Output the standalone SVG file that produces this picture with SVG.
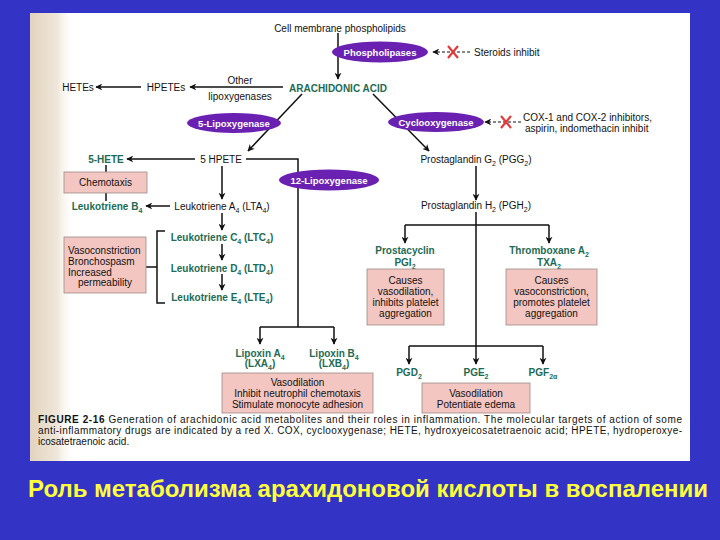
<svg xmlns="http://www.w3.org/2000/svg" width="720" height="540" viewBox="0 0 720 540">
<defs>
<linearGradient id="bind" x1="0" y1="0" x2="1" y2="0">
<stop offset="0" stop-color="#e2d3bd"/>
<stop offset="0.6" stop-color="#efe6da"/>
<stop offset="1" stop-color="#ffffff" stop-opacity="0"/>
</linearGradient>
<marker id="ah" viewBox="0 0 10 10" refX="9" refY="5" markerWidth="7" markerHeight="7" markerUnits="userSpaceOnUse" orient="auto">
<path d="M0,0 L10,5 L0,10 L3,5 Z" fill="#111"/>
</marker>
<style>
text{font-family:"Liberation Sans",Arial,sans-serif;fill:#111;font-size:10px}
.c{text-anchor:middle}
.g{fill:#1d6b55;font-weight:bold;font-size:10px}
.e{fill:#fff;font-weight:bold;font-size:9.5px;text-anchor:middle}
.s{font-size:7px;baseline-shift:-2.5px}
.ell{fill:#6a21b2}
.box{fill:#f4c6c1;stroke:#9a8a88;stroke-width:0.8}
.ln{fill:none;stroke:#111;stroke-width:1.5}
.ar{fill:none;stroke:#111;stroke-width:1.5;marker-end:url(#ah)}
.da{fill:none;stroke:#111;stroke-width:1.2;stroke-dasharray:3 2;marker-end:url(#ah)}
.x{stroke:#e23a3a;stroke-width:2.2;fill:none}
.cap{font-size:10px}
</style>
</defs>
<rect x="0" y="0" width="720" height="540" fill="#3333c6"/>
<rect x="30" y="13" width="660" height="448" fill="#ffffff"/>
<rect x="30" y="13" width="45" height="448" fill="url(#bind)"/>

<g id="connectors">
<line class="ar" x1="338" y1="33" x2="338" y2="79"/>
<line class="da" x1="470" y1="52" x2="433" y2="52"/>
<line class="ar" x1="283" y1="87" x2="190" y2="87"/>
<line class="ar" x1="141" y1="87" x2="96" y2="87"/>
<line class="ar" x1="302" y1="94" x2="248" y2="151"/>
<line class="ar" x1="373" y1="94" x2="429" y2="151"/>
<line class="da" x1="521" y1="122" x2="485" y2="122"/>
<line class="ar" x1="195" y1="159" x2="127" y2="159"/>
<path class="ln" d="M246,159 H298 V327 M260,327 H334"/>
<line class="ar" x1="260" y1="327" x2="260" y2="344"/>
<line class="ar" x1="334" y1="327" x2="334" y2="344"/>
<line class="ar" x1="222" y1="166" x2="222" y2="199"/>
<line class="ln" x1="106" y1="165" x2="106" y2="201"/>
<line class="ar" x1="170" y1="206" x2="146" y2="206"/>
<line class="ar" x1="222" y1="213" x2="222" y2="230"/>
<line class="ar" x1="222" y1="244" x2="222" y2="260"/>
<line class="ar" x1="222" y1="274" x2="222" y2="290"/>
<path class="ln" d="M165,231 H157 V303 H165 M146,267 H157"/>
<line class="ar" x1="476" y1="166" x2="476" y2="200"/>
<path class="ln" d="M476,212 V346 M405,225 H549 M409,346 H543"/>
<line class="ar" x1="405" y1="225" x2="405" y2="243"/>
<line class="ar" x1="549" y1="225" x2="549" y2="243"/>
<line class="ar" x1="409" y1="346" x2="409" y2="364"/>
<line class="ar" x1="476" y1="346" x2="476" y2="364"/>
<line class="ar" x1="543" y1="346" x2="543" y2="364"/>
<path class="x" d="M448,46 L458,58 M458,46 L448,58"/>
<path class="x" d="M501,116 L511,128 M511,116 L501,128"/>
</g>

<g id="cell-membrane"><text class="c" x="340" y="31.5">Cell membrane phospholipids</text></g>
<g id="phospholipases"><ellipse class="ell" cx="380" cy="52" rx="48" ry="10.5"/><text class="e" x="380" y="55.5">Phospholipases</text></g>
<g id="steroids"><text x="474" y="55.5">Steroids inhibit</text></g>
<g id="arachidonic"><text class="g c" x="338" y="91.5">ARACHIDONIC ACID</text></g>
<g id="other-lox"><text class="c" x="240" y="84">Other</text><text class="c" x="240" y="99.5">lipoxygenases</text></g>
<g id="hpetes"><text class="c" x="166" y="90.5">HPETEs</text></g>
<g id="hetes"><text class="c" x="78" y="90.5">HETEs</text></g>
<g id="lox5"><ellipse class="ell" cx="234" cy="123" rx="47" ry="10"/><text class="e" x="234" y="126.5">5-Lipoxygenase</text></g>
<g id="cox"><ellipse class="ell" cx="436" cy="122" rx="48" ry="10"/><text class="e" x="436" y="125.5">Cyclooxygenase</text></g>
<g id="cox-inhib"><text x="523" y="121">COX-1 and COX-2 inhibitors,</text><text x="525" y="132">aspirin, indomethacin inhibit</text></g>
<g id="hete5"><text class="g c" x="106" y="162.5">5-HETE</text></g>
<g id="hpete5"><text class="c" x="221" y="162.5">5 HPETE</text></g>
<g id="lox12"><ellipse class="ell" cx="329" cy="180" rx="50" ry="10.5"/><text class="e" x="329" y="183.5">12-Lipoxygenase</text></g>
<g id="chemotaxis"><rect class="box" x="64" y="172" width="83" height="21"/><text class="c" x="105.5" y="186">Chemotaxis</text></g>
<g id="ltb4"><text class="g c" x="107" y="209.5">Leukotriene B<tspan class="s">4</tspan></text></g>
<g id="lta4"><text class="c" x="222" y="209.5">Leukotriene A<tspan class="s">4</tspan> (LTA<tspan class="s">4</tspan>)</text></g>
<g id="ltc4"><text class="g c" x="222" y="240.5">Leukotriene C<tspan class="s">4</tspan> (LTC<tspan class="s">4</tspan>)</text></g>
<g id="ltd4"><text class="g c" x="222" y="271.5">Leukotriene D<tspan class="s">4</tspan> (LTD<tspan class="s">4</tspan>)</text></g>
<g id="lte4"><text class="g c" x="222" y="300.5">Leukotriene E<tspan class="s">4</tspan> (LTE<tspan class="s">4</tspan>)</text></g>
<g id="vaso-box"><rect class="box" x="64" y="237" width="82" height="56"/>
<text x="68" y="253.5">Vasoconstriction</text><text x="68" y="264.5">Bronchospasm</text><text x="68" y="275.5">Increased</text><text x="78" y="286">permeability</text></g>
<g id="pgg2"><text class="c" x="476" y="162.5">Prostaglandin G<tspan class="s">2</tspan> (PGG<tspan class="s">2</tspan>)</text></g>
<g id="pgh2"><text class="c" x="476" y="208.5">Prostaglandin H<tspan class="s">2</tspan> (PGH<tspan class="s">2</tspan>)</text></g>
<g id="pgi2"><text class="g c" x="405" y="253.5">Prostacyclin</text><text class="g c" x="405" y="265.5">PGI<tspan class="s">2</tspan></text></g>
<g id="txa2"><text class="g c" x="549" y="253.5">Thromboxane A<tspan class="s">2</tspan></text><text class="g c" x="549" y="265.5">TXA<tspan class="s">2</tspan></text></g>
<g id="pgi2-box"><rect class="box" x="367" y="269" width="77" height="56"/>
<text class="c" x="405.5" y="283.5">Causes</text><text class="c" x="405.5" y="294.5">vasodilation,</text><text class="c" x="405.5" y="305.5">inhibits platelet</text><text class="c" x="405.5" y="316.5">aggregation</text></g>
<g id="txa2-box"><rect class="box" x="506" y="269" width="91" height="56"/>
<text class="c" x="551.5" y="283.5">Causes</text><text class="c" x="551.5" y="294.5">vasoconstriction,</text><text class="c" x="551.5" y="305.5">promotes platelet</text><text class="c" x="551.5" y="316.5">aggregation</text></g>
<g id="lxa4"><text class="g c" x="260" y="356.5">Lipoxin A<tspan class="s">4</tspan></text><text class="g c" x="260" y="367">(LXA<tspan class="s">4</tspan>)</text></g>
<g id="lxb4"><text class="g c" x="334" y="356.5">Lipoxin B<tspan class="s">4</tspan></text><text class="g c" x="334" y="367">(LXB<tspan class="s">4</tspan>)</text></g>
<g id="lipoxin-box"><rect class="box" x="222" y="373" width="151" height="40"/>
<text class="c" x="297.5" y="385.5">Vasodilation</text><text class="c" x="297.5" y="396.5">Inhibit neutrophil chemotaxis</text><text class="c" x="297.5" y="407.5">Stimulate monocyte adhesion</text></g>
<g id="pgd2"><text class="g c" x="409" y="375.5">PGD<tspan class="s">2</tspan></text></g>
<g id="pge2"><text class="g c" x="476" y="375.5">PGE<tspan class="s">2</tspan></text></g>
<g id="pgf2a"><text class="g c" x="543" y="375.5">PGF<tspan class="s">2α</tspan></text></g>
<g id="pge-box"><rect class="box" x="422" y="383" width="108" height="30"/>
<text class="c" x="476" y="396.5">Vasodilation</text><text class="c" x="476" y="407.5">Potentiate edema</text></g>

<g id="figure-caption">
<text class="cap" x="38" y="423" textLength="644" lengthAdjust="spacing"><tspan font-weight="bold">FIGURE 2-16</tspan>  Generation of arachidonic acid metabolites and their roles in inflammation. The molecular targets of action of some</text>
<text class="cap" x="38" y="434" textLength="644" lengthAdjust="spacing">anti-inflammatory drugs are indicated by a red X. COX, cyclooxygenase; HETE, hydroxyeicosatetraenoic acid; HPETE, hydroperoxye-</text>
<text class="cap" x="38" y="445">icosatetraenoic acid.</text>
</g>
<g id="title"><text x="28" y="497" textLength="680" lengthAdjust="spacingAndGlyphs" style="fill:#ffff3a;font-weight:bold;font-size:23px">Роль метаболизма арахидоновой кислоты в воспалении</text></g>
</svg>
